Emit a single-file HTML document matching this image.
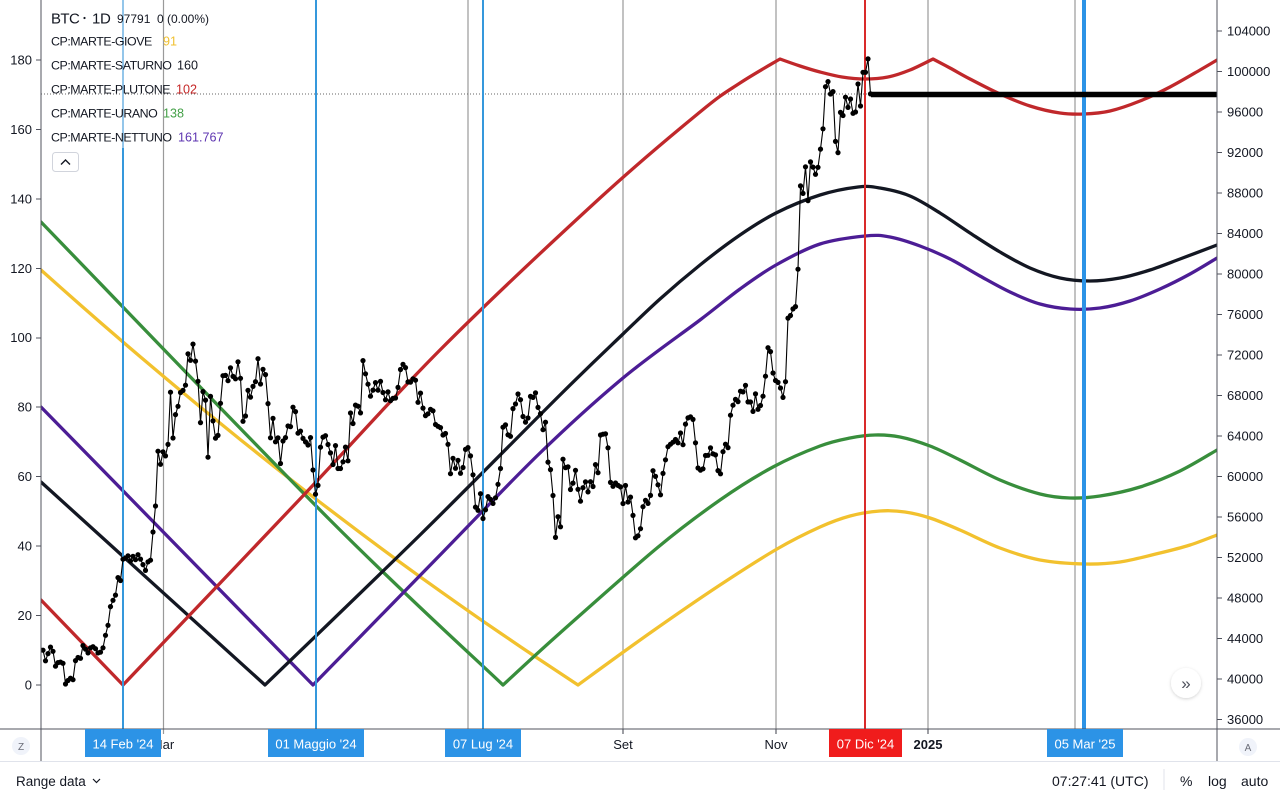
<!DOCTYPE html>
<html><head><meta charset="utf-8">
<style>
html,body{margin:0;padding:0;background:#fff;overflow:hidden;}
svg{display:block;font-family:"Liberation Sans",sans-serif;}
</style></head><body>
<svg id="c" width="1280" height="800" viewBox="0 0 1280 800" xmlns="http://www.w3.org/2000/svg">
<defs>
<clipPath id="plot"><rect x="41" y="0" width="1176" height="729"/></clipPath>
<filter id="sh" x="-50%" y="-50%" width="200%" height="200%"><feDropShadow dx="0" dy="1" stdDeviation="1.5" flood-color="#000" flood-opacity="0.18"/></filter>
</defs>
<rect width="1280" height="800" fill="#fff"/>

<!-- grid verticals -->
<g stroke="#9a9a9a" stroke-width="1.2">
<line x1="163.5" y1="0" x2="163.5" y2="734"/>
<line x1="468" y1="0" x2="468" y2="734"/>
<line x1="623" y1="0" x2="623" y2="734"/>
<line x1="776" y1="0" x2="776" y2="734"/>
<line x1="928" y1="0" x2="928" y2="734"/>
<line x1="1075" y1="0" x2="1075" y2="734"/>
</g>

<!-- dotted price line -->
<line x1="41" y1="94" x2="871" y2="94" stroke="#666" stroke-width="1" stroke-dasharray="1 2"/>

<g id="lines" clip-path="url(#plot)"></g>

<!-- event verticals -->
<g>
<line x1="123" y1="0" x2="123" y2="148" stroke="#94c6ea" stroke-width="2"/>
<line x1="123" y1="148" x2="123" y2="729" stroke="#3598dc" stroke-width="2"/>
<line x1="316" y1="0" x2="316" y2="729" stroke="#3598dc" stroke-width="2"/>
<line x1="483" y1="0" x2="483" y2="729" stroke="#3598dc" stroke-width="2"/>
<line x1="1084" y1="0" x2="1084" y2="729" stroke="#2c93e6" stroke-width="4"/>
<line x1="865" y1="0" x2="865" y2="729" stroke="#d92a2a" stroke-width="2"/>
</g>

<g id="btc" clip-path="url(#plot)"></g>

<!-- current level thick line -->
<line x1="871" y1="94.5" x2="1217" y2="94.5" stroke="#000" stroke-width="5.5"/>

<!-- axes -->
<line x1="41" y1="0" x2="41" y2="761" stroke="#50535e" stroke-width="1"/>
<line x1="1217" y1="0" x2="1217" y2="761" stroke="#50535e" stroke-width="1"/>
<line x1="0" y1="729" x2="1280" y2="729" stroke="#50535e" stroke-width="1"/>
<line x1="0" y1="761.5" x2="1280" y2="761.5" stroke="#e0e3eb" stroke-width="1"/>

<!-- left axis -->
<g font-size="13" fill="#131722" text-anchor="end">
<text x="32" y="64.5">180</text>
<text x="32" y="134">160</text>
<text x="32" y="203.5">140</text>
<text x="32" y="273">120</text>
<text x="32" y="342">100</text>
<text x="32" y="411.5">80</text>
<text x="32" y="481">60</text>
<text x="32" y="550.5">40</text>
<text x="32" y="620">20</text>
<text x="32" y="689.5">0</text>
</g>
<g stroke="#50535e" stroke-width="1">
<line x1="36" y1="60" x2="41" y2="60"/><line x1="36" y1="129.5" x2="41" y2="129.5"/>
<line x1="36" y1="199" x2="41" y2="199"/><line x1="36" y1="268.5" x2="41" y2="268.5"/>
<line x1="36" y1="338" x2="41" y2="338"/><line x1="36" y1="407" x2="41" y2="407"/>
<line x1="36" y1="476.5" x2="41" y2="476.5"/><line x1="36" y1="546" x2="41" y2="546"/>
<line x1="36" y1="615.5" x2="41" y2="615.5"/><line x1="36" y1="685" x2="41" y2="685"/>
</g>

<!-- right axis -->
<g font-size="13" fill="#131722">
<text x="1227" y="35.5">104000</text>
<text x="1227" y="76">100000</text>
<text x="1227" y="116.5">96000</text>
<text x="1227" y="157">92000</text>
<text x="1227" y="197.5">88000</text>
<text x="1227" y="238">84000</text>
<text x="1227" y="278.5">80000</text>
<text x="1227" y="319">76000</text>
<text x="1227" y="359.5">72000</text>
<text x="1227" y="400">68000</text>
<text x="1227" y="440.5">64000</text>
<text x="1227" y="481">60000</text>
<text x="1227" y="521.5">56000</text>
<text x="1227" y="562">52000</text>
<text x="1227" y="602.5">48000</text>
<text x="1227" y="643">44000</text>
<text x="1227" y="683.5">40000</text>
<text x="1227" y="724">36000</text>
</g>
<g stroke="#50535e" stroke-width="1">
<line x1="1217" y1="31" x2="1222" y2="31"/><line x1="1217" y1="71.5" x2="1222" y2="71.5"/>
<line x1="1217" y1="112" x2="1222" y2="112"/><line x1="1217" y1="152.5" x2="1222" y2="152.5"/>
<line x1="1217" y1="193" x2="1222" y2="193"/><line x1="1217" y1="233.5" x2="1222" y2="233.5"/>
<line x1="1217" y1="274" x2="1222" y2="274"/><line x1="1217" y1="314.5" x2="1222" y2="314.5"/>
<line x1="1217" y1="355" x2="1222" y2="355"/><line x1="1217" y1="395.5" x2="1222" y2="395.5"/>
<line x1="1217" y1="436" x2="1222" y2="436"/><line x1="1217" y1="476.5" x2="1222" y2="476.5"/>
<line x1="1217" y1="517" x2="1222" y2="517"/><line x1="1217" y1="557.5" x2="1222" y2="557.5"/>
<line x1="1217" y1="598" x2="1222" y2="598"/><line x1="1217" y1="638.5" x2="1222" y2="638.5"/>
<line x1="1217" y1="679" x2="1222" y2="679"/><line x1="1217" y1="719.5" x2="1222" y2="719.5"/>
</g>

<!-- bottom axis labels -->
<g font-size="13" fill="#131722" text-anchor="middle">
<text x="163" y="749">Mar</text>
<text x="623" y="749">Set</text>
<text x="776" y="749">Nov</text>
<text x="928" y="749" font-weight="bold">2025</text>
</g>
<g stroke="#50535e" stroke-width="1">
<line x1="623" y1="729" x2="623" y2="734"/><line x1="776" y1="729" x2="776" y2="734"/><line x1="928" y1="729" x2="928" y2="734"/>
</g>
<g font-size="13" fill="#fff" text-anchor="middle">
<rect x="85" y="729" width="76" height="28" fill="#2c93e6"/>
<text x="123" y="748.5">14 Feb '24</text>
<rect x="268" y="729" width="96" height="28" fill="#2c93e6"/>
<text x="316" y="748.5">01 Maggio '24</text>
<rect x="445" y="729" width="76" height="28" fill="#2c93e6"/>
<text x="483" y="748.5">07 Lug '24</text>
<rect x="829" y="729" width="73" height="28" fill="#f01c1c"/>
<text x="865.5" y="748.5">07 Dic '24</text>
<rect x="1047" y="729" width="76" height="28" fill="#2c93e6"/>
<text x="1085" y="748.5">05 Mar '25</text>
</g>

<!-- corner buttons -->
<circle cx="21" cy="746" r="9" fill="#f0f3fa"/>
<text x="21" y="750" font-size="10" fill="#6a6d78" text-anchor="middle">Z</text>
<circle cx="1248" cy="747" r="9" fill="#f0f3fa"/>
<text x="1248" y="751" font-size="10" fill="#6a6d78" text-anchor="middle">A</text>
<circle cx="1186" cy="683" r="15" fill="#fff" filter="url(#sh)"/>
<text x="1186" y="689" font-size="17" fill="#50535e" text-anchor="middle">»</text>

<!-- bottom toolbar -->
<g font-size="13.5" fill="#131722">
<text x="16" y="786">Range data</text>
<polyline points="93,779 96.5,782.5 100,779" fill="none" stroke="#131722" stroke-width="1.2"/>
<text x="1052" y="786" font-size="14">07:27:41 (UTC)</text>
<line x1="1164" y1="769" x2="1164" y2="790" stroke="#e0e3eb" stroke-width="1"/>
<text x="1180" y="786" font-size="14">%</text>
<text x="1208" y="786" font-size="14">log</text>
<text x="1241" y="786" font-size="14">auto</text>
</g>

<!-- legend -->
<g fill="#131722">
<text x="51" y="23.5" font-size="15" letter-spacing="-0.6">BTC</text>
<circle cx="84.5" cy="18" r="1.1" fill="#131722"/>
<text x="92" y="23.5" font-size="15" letter-spacing="-0.3">1D</text>
<text x="117" y="23" font-size="12">97791</text>
<text x="157" y="23" font-size="12">0 (0.00%)</text>
<g font-size="12.4" letter-spacing="-0.45">
<text x="51" y="45.5">CP:MARTE-GIOVE</text>
<text x="51" y="69.5">CP:MARTE-SATURNO</text>
<text x="51" y="93.5">CP:MARTE-PLUTONE</text>
<text x="51" y="117.5">CP:MARTE-URANO</text>
<text x="51" y="141.5">CP:MARTE-NETTUNO</text>
</g>
<g font-size="12.6">
<text x="163" y="45.5" fill="#f0c030">91</text>
<text x="177" y="69.5" fill="#131722">160</text>
<text x="176" y="93.5" fill="#c62828">102</text>
<text x="163" y="117.5" fill="#43a047">138</text>
<text x="178" y="141.5" fill="#5e35b1">161.767</text>
</g>
<rect x="52.5" y="152.5" width="26" height="19" rx="3" fill="#fff" stroke="#d1d4dc"/>
<polyline points="61,164.5 65.5,160 70,164.5" fill="none" stroke="#131722" stroke-width="1.4"/>
</g>
</svg>
<script>
(function(){
var NS='http://www.w3.org/2000/svg';
function el(tag,attrs,parent){var e=document.createElementNS(NS,tag);for(var k in attrs)e.setAttribute(k,attrs[k]);parent.appendChild(e);return e;}
function cr(pts){
  var d='';
  for(var i=0;i<pts.length-1;i++){
    var p0=pts[i-1]||pts[i],p1=pts[i],p2=pts[i+1],p3=pts[i+2]||p2;
    var c1x=p1[0]+(p2[0]-p0[0])/6,c1y=p1[1]+(p2[1]-p0[1])/6;
    var c2x=p2[0]-(p3[0]-p1[0])/6,c2y=p2[1]-(p3[1]-p1[1])/6;
    d+=' C'+c1x.toFixed(1)+','+c1y.toFixed(1)+' '+c2x.toFixed(1)+','+c2y.toFixed(1)+' '+p2[0]+','+p2[1];
  }
  return d;
}
var gL=document.getElementById('lines');
function ln(d,color){el('path',{d:d,fill:'none',stroke:color,'stroke-width':3.3,'stroke-linejoin':'round','stroke-linecap':'round'},gL);}

// yellow descending (quadratic)
var yd='M41,270';
for(var x=61;x<=578;x+=20){var dx=x-41;yd+=' L'+x+','+(270+0.897*dx-0.000232*dx*dx).toFixed(1);}
yd+=' L578,685';
var yUp=[[578,685],[650,633],[720,585],[777,549],[820,527],[850,516],[880,511],[905,512],[930,518],[960,530],[1000,548],[1040,560],[1085,564],[1120,562],[1160,553],[1190,545],[1217,535]];
ln(yd+cr(yUp),'#f2c12e');

// green
var gDown=[[41,222],[330,520],[503,685]];
var gUp=[[503,685],[560,633],[657,548],[720,500],[773,467],[820,446],[850,438],[875,435],[900,437],[930,446],[960,460],[1000,480],[1040,494],[1070,498],[1100,496],[1140,487],[1180,471],[1217,450]];
ln('M41,222'+cr(gDown)+cr(gUp),'#388e3c');

// purple
var pUp=[[313,685],[443,552],[540,453],[623,378],[700,320],[740,289],[776,265],[820,244],[865,236],[890,237],[920,246],[950,259],[980,276],[1010,292],[1040,304],[1070,309],[1100,308],[1130,301],[1160,289],[1190,274],[1217,258]];
ln('M41,407 L313,685'+cr(pUp),'#4c1d95');

// black
var bUp=[[265,685],[420,535],[560,395],[623,334],[660,299],[700,265],[740,235],[776,213],[820,195],[858,187],[880,188],[910,196],[940,213],[970,233],[1000,252],[1030,268],[1060,278],[1090,281],[1120,278],[1150,270],[1180,259],[1217,245]];
ln('M41,482 L265,685'+cr(bUp),'#131722');

// red
var rA=[[123,685],[300,499],[440,350],[600,198],[700,112],[740,83],[780,59]];
var rB=[[780,59],[800,66],[820,72],[842,77],[865,79],[888,77],[910,70],[933,59]];
var rC=[[933,59],[950,68],[970,79],[1000,94],[1030,106],[1060,113],[1084,114],[1110,111],[1140,101],[1170,87],[1200,70],[1217,60]];
ln('M41,600 L123,685'+cr(rA)+cr(rB)+cr(rC),'#c0282b');

// BTC daily closes (thousands) Jan 12 2024 -> Dec 9 2024
var d=[42.85,42.84,41.80,42.51,43.15,42.74,41.26,41.62,41.67,41.55,39.51,39.85,40.08,39.93,41.82,42.12,42.04,43.30,42.95,42.58,
43.08,43.19,42.99,42.58,42.66,43.08,44.32,45.30,47.15,47.77,48.29,50.01,49.73,51.83,51.94,52.16,51.66,52.12,51.78,52.28,51.84,51.30,50.73,51.57,51.73,54.52,57.09,62.50,61.20,
62.44,62.03,63.17,68.33,63.80,66.11,66.93,68.30,68.50,69.02,72.12,71.48,73.08,71.40,69.40,65.32,68.39,67.55,61.91,67.91,65.49,63.78,64.06,67.23,69.96,69.99,69.46,70.74,69.89,69.65,71.33,
69.70,65.45,65.98,68.51,67.84,68.90,69.36,71.63,69.14,70.59,70.06,67.20,63.82,65.74,63.43,63.81,61.28,63.51,63.84,64.99,64.93,66.84,66.41,64.28,64.48,63.76,63.42,63.11,63.84,60.64,
58.25,59.12,62.89,63.89,64.03,63.16,62.33,61.19,63.05,60.79,60.79,61.45,62.90,61.55,66.27,65.23,67.05,66.94,66.28,71.45,70.14,69.12,67.93,68.53,69.27,68.52,69.39,68.30,67.58,68.36,67.49,
67.71,67.75,68.80,70.57,71.08,70.76,69.34,69.31,69.65,69.51,67.33,68.24,66.76,66.01,66.19,66.64,66.49,65.14,64.96,64.83,64.10,64.25,63.18,60.28,61.80,60.81,61.60,60.32,60.89,62.68,
62.85,62.03,60.17,56.98,56.66,58.30,55.85,56.71,58.01,57.74,57.34,57.90,59.23,60.79,64.87,65.10,64.12,63.97,66.71,67.16,68.15,67.59,65.93,65.37,65.78,67.91,67.81,68.26,66.82,66.20,64.62,
65.36,61.42,60.68,58.12,53.99,56.03,55.03,61.71,60.88,60.95,58.72,59.35,60.61,58.74,57.56,58.89,59.48,58.48,59.49,59.01,61.18,60.38,64.10,64.18,64.22,62.83,59.42,59.03,59.36,59.12,58.97,
57.33,59.11,57.48,57.97,56.16,53.95,54.14,54.84,57.02,57.65,57.34,58.13,60.57,60.01,59.18,58.19,60.31,61.65,62.94,63.19,63.39,63.65,63.33,64.30,63.14,65.18,65.79,65.89,65.64,63.33,
60.84,60.63,60.76,62.07,62.09,62.82,62.24,62.13,60.58,60.27,62.45,63.19,62.85,66.05,67.04,67.61,67.40,68.42,68.36,69.00,67.37,67.36,66.43,68.16,66.64,67.01,67.93,69.91,72.72,72.34,70.22,
69.48,69.29,68.74,67.81,69.36,75.64,75.90,76.55,76.78,80.47,88.70,87.96,90.59,87.25,91.07,90.56,89.85,90.54,92.34,94.34,98.50,99.00,97.78,98.01,93.10,91.99,95.96,95.65,97.46,96.45,
97.28,95.87,96.00,98.77,96.59,99.92,99.92,101.24,97.79];
var gB=document.getElementById('btc');
var path='',pts=[];
for(var i=0;i<d.length;i++){
  var px=40.5+i*2.5, py=31+(104-d[i])*10.125;
  pts.push([px,py]);
  path+=(i?' L':'M')+px.toFixed(1)+','+py.toFixed(1);
}
el('path',{d:path,fill:'none',stroke:'#000','stroke-width':1.1,'stroke-linejoin':'round'},gB);
for(var j=0;j<pts.length;j++){el('circle',{cx:pts[j][0].toFixed(1),cy:pts[j][1].toFixed(1),r:2.6,fill:'#000'},gB);}
})();
</script>
</body></html>
